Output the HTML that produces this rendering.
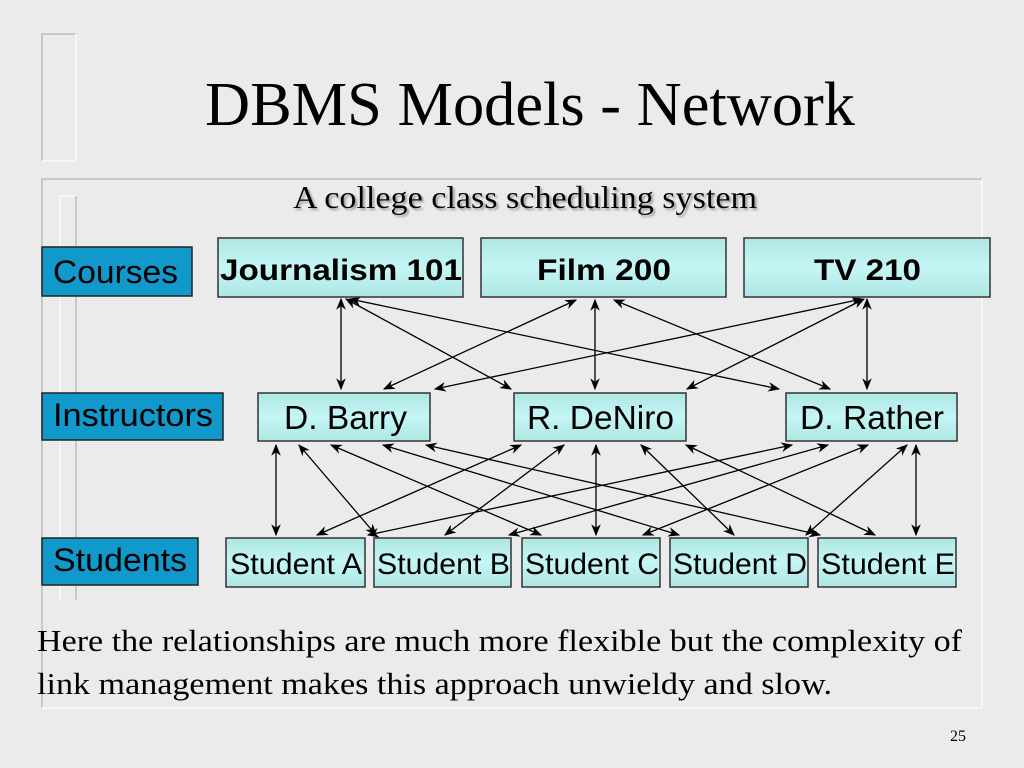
<!DOCTYPE html>
<html><head><meta charset="utf-8"><style>
html,body{margin:0;padding:0;background:#ebebeb;}
svg{display:block;}
.s{font-family:"Liberation Serif",serif;}
.a{font-family:"Liberation Sans",sans-serif;}
</style></head><body>
<svg width="1024" height="768" viewBox="0 0 1024 768" xmlns="http://www.w3.org/2000/svg">
<defs>
<marker id="m" viewBox="0 0 10 10" refX="9" refY="5" markerWidth="12" markerHeight="12" orient="auto-start-reverse" markerUnits="userSpaceOnUse">
<path d="M0,1 L10,5 L0,9 L3,5 z" fill="#000"/>
</marker>
<linearGradient id="g" x1="0" y1="0" x2="0" y2="1">
<stop offset="0" stop-color="#aee6e4"/><stop offset="0.5" stop-color="#c4f6f4"/><stop offset="1" stop-color="#aee6e4"/>
</linearGradient>
<filter id="sh"><feDropShadow dx="2" dy="2" stdDeviation="1" flood-color="#999"/></filter>
</defs>
<rect width="1024" height="768" fill="#ebebeb"/>
<path d="M42,161 V34 H76" fill="none" stroke="#bdbdbd" stroke-width="1.5"/>
<path d="M76,34 V161 H42" fill="none" stroke="#fafafa" stroke-width="1.5"/>
<path d="M42,708 V179 H982" fill="none" stroke="#bdbdbd" stroke-width="1.5"/>
<path d="M982,179 V708 H42" fill="none" stroke="#fafafa" stroke-width="1.5"/>
<path d="M60,600 V196 H76" fill="none" stroke="#fafafa" stroke-width="1.5"/>
<path d="M76,196 V600" fill="none" stroke="#bdbdbd" stroke-width="1.5"/>
<text x="205" y="125" class="s" font-size="62" textLength="650" lengthAdjust="spacingAndGlyphs">DBMS Models - Network</text>
<text x="293" y="208" class="s" font-size="32" textLength="464" lengthAdjust="spacingAndGlyphs" filter="url(#sh)">A college class scheduling system</text>
<g stroke="#222" stroke-width="1.5">
<rect x="42" y="247" width="150" height="49" fill="#1199cc"/>
<rect x="42" y="393" width="181" height="47" fill="#1199cc"/>
<rect x="42" y="538" width="156" height="47" fill="#1199cc"/>
</g>
<g class="a" font-size="32">
<text x="53" y="283" textLength="125" lengthAdjust="spacingAndGlyphs">Courses</text>
<text x="53" y="426" textLength="160" lengthAdjust="spacingAndGlyphs">Instructors</text>
<text x="53" y="571" textLength="134" lengthAdjust="spacingAndGlyphs">Students</text>
</g>
<g stroke="#000" stroke-width="1.3" marker-start="url(#m)" marker-end="url(#m)" fill="none">
<line x1="341" y1="299" x2="341" y2="389"/>
<line x1="346" y1="299" x2="511" y2="389"/>
<line x1="350" y1="299" x2="779" y2="389"/>
<line x1="576" y1="300" x2="384" y2="389"/>
<line x1="595" y1="300" x2="595" y2="389"/>
<line x1="614" y1="300" x2="830" y2="389"/>
<line x1="862" y1="299" x2="435" y2="389"/>
<line x1="864" y1="299" x2="687" y2="389"/>
<line x1="867" y1="299" x2="867" y2="389"/>
<line x1="276" y1="445" x2="276" y2="535"/>
<line x1="299" y1="445" x2="376" y2="535"/>
<line x1="331" y1="445" x2="541" y2="535"/>
<line x1="383" y1="445" x2="679" y2="535"/>
<line x1="426" y1="445" x2="820" y2="535"/>
<line x1="521" y1="445" x2="317" y2="535"/>
<line x1="564" y1="445" x2="445" y2="535"/>
<line x1="596" y1="445" x2="596" y2="535"/>
<line x1="641" y1="445" x2="734" y2="535"/>
<line x1="686" y1="445" x2="875" y2="535"/>
<line x1="792" y1="445" x2="368" y2="535"/>
<line x1="828" y1="445" x2="509" y2="535"/>
<line x1="868" y1="445" x2="643" y2="535"/>
<line x1="907" y1="445" x2="806" y2="535"/>
<line x1="916" y1="445" x2="916" y2="535"/>
</g>
<g fill="url(#g)" stroke="#333" stroke-width="1.5">
<rect x="218" y="238" width="245" height="59"/>
<rect x="481" y="238" width="245" height="59"/>
<rect x="744" y="238" width="246" height="59"/>
<rect x="258" y="393" width="172" height="48"/>
<rect x="514" y="393" width="172" height="48"/>
<rect x="786" y="393" width="171" height="48"/>
<rect x="226" y="538" width="139" height="49"/>
<rect x="374" y="538" width="137" height="49"/>
<rect x="522" y="538" width="138" height="49"/>
<rect x="670" y="538" width="138" height="49"/>
<rect x="818" y="538" width="138" height="49"/>
</g>
<g class="a">
<g font-size="30" font-weight="bold">
<text x="220" y="280" textLength="242" lengthAdjust="spacingAndGlyphs">Journalism 101</text>
<text x="537" y="280" textLength="134" lengthAdjust="spacingAndGlyphs">Film 200</text>
<text x="814" y="280" textLength="107" lengthAdjust="spacingAndGlyphs">TV 210</text>
</g>
<g font-size="33">
<text x="284" y="429" textLength="123" lengthAdjust="spacingAndGlyphs">D. Barry</text>
<text x="527" y="429" textLength="147" lengthAdjust="spacingAndGlyphs">R. DeNiro</text>
<text x="800" y="429" textLength="144" lengthAdjust="spacingAndGlyphs">D. Rather</text>
</g>
<g font-size="30">
<text x="230" y="574" textLength="132" lengthAdjust="spacingAndGlyphs">Student A</text>
<text x="377" y="574" textLength="133" lengthAdjust="spacingAndGlyphs">Student B</text>
<text x="525" y="574" textLength="134" lengthAdjust="spacingAndGlyphs">Student C</text>
<text x="673" y="574" textLength="134" lengthAdjust="spacingAndGlyphs">Student D</text>
<text x="821" y="574" textLength="134" lengthAdjust="spacingAndGlyphs">Student E</text>
</g>
</g>
<text x="37" y="651" class="s" font-size="31" textLength="925" lengthAdjust="spacingAndGlyphs">Here the relationships are much more flexible but the complexity of</text>
<text x="37" y="694" class="s" font-size="31" textLength="795" lengthAdjust="spacingAndGlyphs">link management makes this approach unwieldy and slow.</text>
<text x="950" y="741" class="s" font-size="16">25</text>
</svg>
</body></html>
